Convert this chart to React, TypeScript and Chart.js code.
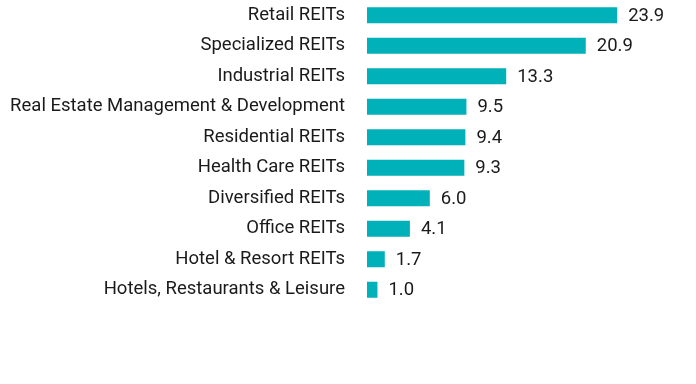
import React, { useEffect, useRef } from "react";
import { Chart, registerables } from "chart.js";

Chart.register(...registerables);

const categories = [
  "Retail REITs",
  "Specialized REITs",
  "Industrial REITs",
  "Real Estate Management & Development",
  "Residential REITs",
  "Health Care REITs",
  "Diversified REITs",
  "Office REITs",
  "Hotel & Resort REITs",
  "Hotels, Restaurants & Leisure",
];
const values = [23.9, 20.9, 13.3, 9.5, 9.4, 9.3, 6.0, 4.1, 1.7, 1.0];

const BAR_COLOR = "#00B1B9";
const TEXT_COLOR = "#1a1a1a";
const FONT = "Roboto";
const FONT_SIZE = 18.5;

const valueLabels = {
  id: "valueLabels",
  afterDatasetsDraw(chart: any) {
    const ctx = chart.ctx;
    const meta = chart.getDatasetMeta(0);
    ctx.save();
    ctx.font = `${FONT_SIZE}px ${FONT}`;
    ctx.fillStyle = TEXT_COLOR;
    ctx.textAlign = "left";
    ctx.textBaseline = "middle";
    meta.data.forEach((bar: any, i: number) => {
      ctx.fillText(values[i].toFixed(1), bar.x + 11, bar.y + 1);
    });
    ctx.restore();
  },
};

export default function App() {
  const ref = useRef<HTMLCanvasElement>(null);
  useEffect(() => {
    const chart = new Chart(ref.current!, {
      type: "bar",
      data: {
        labels: categories,
        datasets: [
          {
            data: values,
            backgroundColor: BAR_COLOR,
            barPercentage: 0.525,
            categoryPercentage: 1,
          },
        ],
      },
      options: {
        indexAxis: "y",
        animation: false,
        responsive: false,
        maintainAspectRatio: false,
        layout: { padding: { top: 0, bottom: 79, left: 0, right: 15 } },
        plugins: { legend: { display: false }, tooltip: { enabled: false } },
        scales: {
          x: { display: false, min: 0, max: 30 },
          y: {
            afterFit: (scale: any) => {
              scale.width = 367;
              scale.paddingTop = 0;
              scale.paddingBottom = 0;
            },
            grid: { display: false, drawTicks: false },
            border: { display: false },
            ticks: {
              padding: 22,
              color: TEXT_COLOR,
              font: { family: FONT, size: FONT_SIZE },
            },
          },
        },
      },
      plugins: [valueLabels],
    });
    return () => chart.destroy();
  }, []);
  return (
    <div style={{ position: "absolute", left: 0, top: 0, width: 696, height: 384, background: "#fff" }}>
      <canvas ref={ref} width={696} height={384} />
    </div>
  );
}
